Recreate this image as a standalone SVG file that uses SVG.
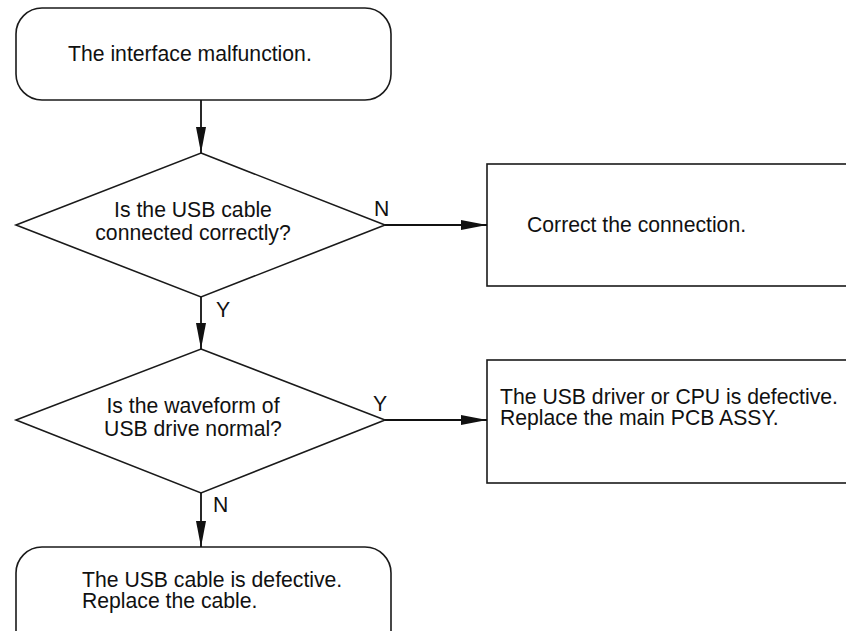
<svg xmlns="http://www.w3.org/2000/svg" width="846" height="631" viewBox="0 0 846 631">
<style>
.s{fill:#fff;stroke:#1a1a1a;stroke-width:1.6}
.t{font-family:"Liberation Sans",Arial,sans-serif;font-size:21.2px;fill:#111}
.c{text-anchor:middle}
.l{stroke:#111;stroke-width:1.8;fill:none}
</style>
<defs>
<marker id="a" markerUnits="userSpaceOnUse" markerWidth="28" markerHeight="12" refX="26" refY="6" orient="auto">
<path d="M0,1 L26,6 L0,11 Z" fill="#111"/>
</marker>
</defs>
<rect width="846" height="631" fill="#fff"/>
<g id="start">
<rect class="s" x="16" y="8" width="375" height="92" rx="26" ry="26"/>
<text class="t" x="68" y="61">The interface malfunction.</text>
</g>
<g id="d1">
<polygon class="s" points="201,153 385,225 201,297 16,225"/>
<text class="t c" x="193" y="217">Is the USB cable</text>
<text class="t c" x="193" y="240">connected correctly?</text>
</g>
<g id="b1">
<rect class="s" x="487" y="164" width="370" height="122"/>
<text class="t" x="527" y="232">Correct the connection.</text>
</g>
<g id="d2">
<polygon class="s" points="201,349 385,420 201,493 16,420"/>
<text class="t c" x="193" y="413">Is the waveform of</text>
<text class="t c" x="193" y="436">USB drive normal?</text>
</g>
<g id="b2">
<rect class="s" x="487" y="360" width="370" height="123"/>
<text class="t" x="500" y="404">The USB driver or CPU is defective.</text>
<text class="t" x="500" y="425">Replace the main PCB ASSY.</text>
</g>
<g id="end">
<rect class="s" x="16" y="547" width="375" height="110" rx="26" ry="26"/>
<text class="t" x="82" y="587">The USB cable is defective.</text>
<text class="t" x="82" y="608">Replace the cable.</text>
</g>
<g id="connectors">
<line class="l" x1="201" y1="100" x2="201" y2="153" marker-end="url(#a)"/>
<line class="l" x1="385" y1="225" x2="487" y2="225" marker-end="url(#a)"/>
<line class="l" x1="201" y1="297" x2="201" y2="349" marker-end="url(#a)"/>
<line class="l" x1="385" y1="420" x2="487" y2="420" marker-end="url(#a)"/>
<line class="l" x1="201" y1="493" x2="201" y2="547" marker-end="url(#a)"/>
<text class="t" x="374" y="216">N</text>
<text class="t" x="216" y="317">Y</text>
<text class="t" x="373" y="411">Y</text>
<text class="t" x="213" y="512">N</text>
</g>
</svg>
